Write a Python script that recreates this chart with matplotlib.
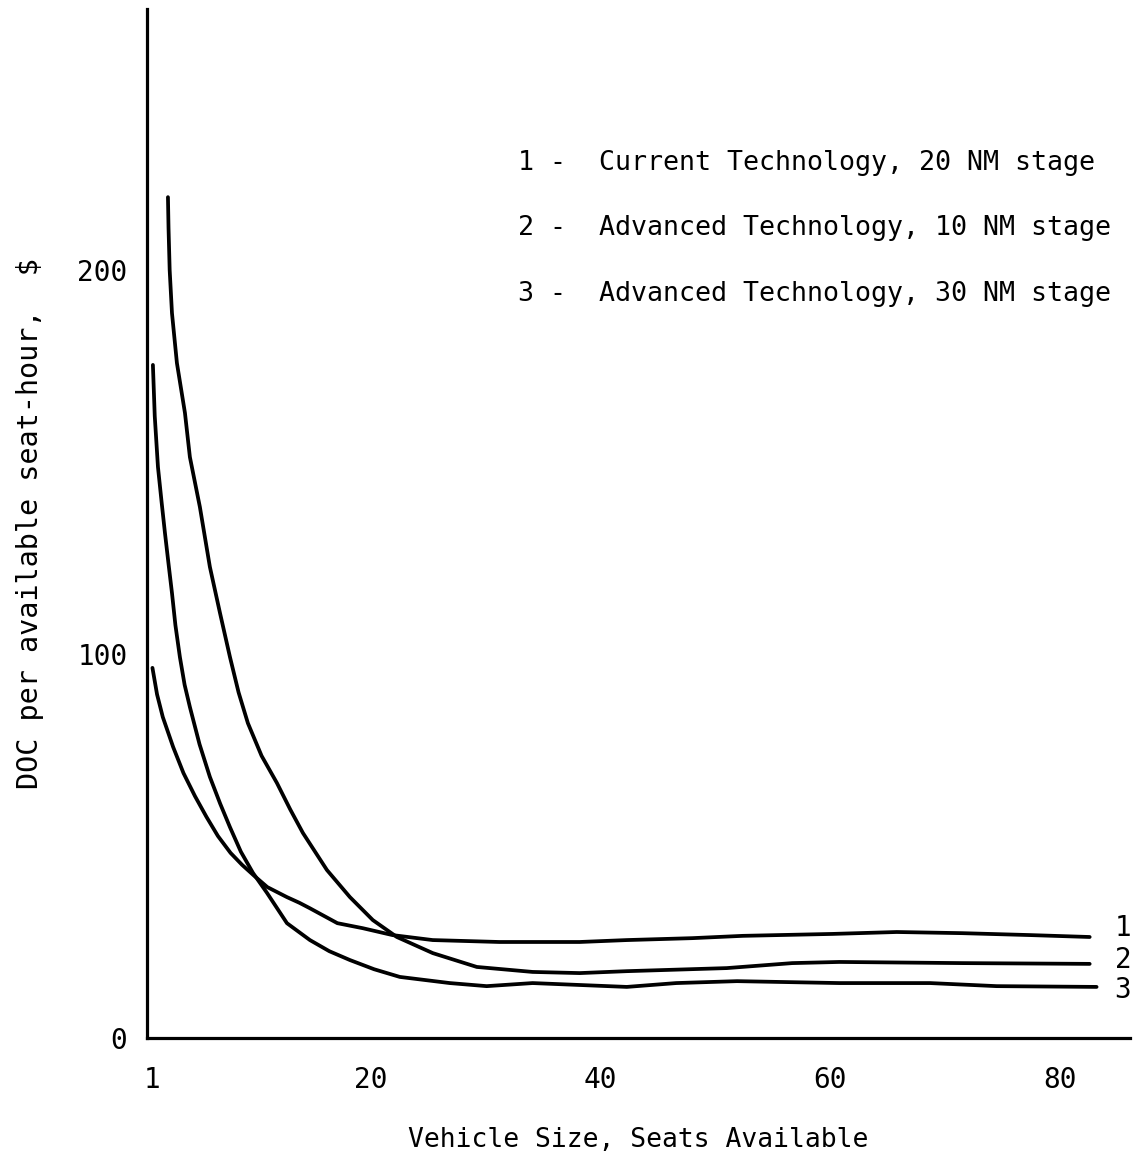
import matplotlib
matplotlib.use("Agg")
import matplotlib.pyplot as plt

# Vehicle size (seats) and direct operating cost per available seat-hour ($)
seats_1 = [1.0, 1.4, 1.9, 2.8, 3.7, 4.7, 5.7, 6.7, 7.8, 8.8, 9.8, 11.0, 12.7, 13.8,
           14.7, 17.1, 19.3, 21.9, 25.4, 31.2, 38.2, 42.3, 48.0, 52.4, 60.2, 65.8,
           71.5, 77.4, 82.6]
doc_1 = [96.4, 89.5, 83.6, 75.8, 69.0, 63.0, 57.6, 52.6, 48.2, 45.1, 42.4, 39.3,
         36.7, 35.2, 33.8, 29.9, 28.6, 26.8, 25.5, 25.0, 25.0, 25.5, 26.0, 26.6,
         27.1, 27.6, 27.3, 26.8, 26.3]

seats_2 = [2.35, 2.4, 2.5, 2.7, 3.13, 3.83, 4.26, 5.13, 6.0, 6.88, 7.75, 8.5, 9.31,
           10.5, 11.84, 13.0, 14.1, 16.19, 18.19, 20.19, 22.28, 25.41, 29.24, 34.1,
           38.2, 42.3, 51.0, 56.7, 60.8, 71.5, 82.6]
doc_2 = [219.0, 211.0, 200.0, 188.8, 175.8, 162.8, 151.3, 138.3, 122.7, 110.7, 99.2,
         90.0, 82.0, 73.5, 66.4, 59.5, 53.4, 43.75, 36.7, 30.7, 26.3, 22.1, 18.5,
         17.2, 16.9, 17.4, 18.2, 19.5, 19.8, 19.5, 19.3]

seats_3 = [1.04, 1.2, 1.48, 1.8, 2.09, 2.4, 2.7, 3.0, 3.39, 3.8, 4.26, 5.1, 6.0,
           6.9, 7.75, 8.7, 9.75, 10.97, 12.71, 14.71, 16.4, 18.19, 20.3, 22.54,
           26.89, 30.1, 34.1, 38.2, 42.3, 46.6, 51.9, 60.8, 68.7, 74.5, 83.2]
doc_3 = [175.3, 162.0, 148.7, 139.5, 131.5, 123.5, 115.9, 107.5, 99.2, 92.0, 86.2,
         76.5, 68.0, 61.0, 54.9, 48.5, 43.0, 37.8, 29.9, 25.5, 22.6, 20.3, 17.9,
         15.9, 14.3, 13.5, 14.3, 13.8, 13.3, 14.3, 14.8, 14.3, 14.3, 13.5, 13.3]

curve_ids = ["1", "2", "3"]
legend_lines = [
    "Current Technology, 20 NM stage",
    "Advanced Technology, 10 NM stage",
    "Advanced Technology, 30 NM stage",
]
x_ticks = [1, 20, 40, 60, 80]
y_ticks = [0, 100, 200]

font = "DejaVu Sans Mono"

fig = plt.figure(figsize=(11.39, 11.71), dpi=100)
ax = fig.add_axes([0.129, 0.1136, 0.863, 0.8787])

for xs, ys in [(seats_1, doc_1), (seats_2, doc_2), (seats_3, doc_3)]:
    ax.plot(xs, ys, color="black", lw=2.7, solid_joinstyle="round",
            solid_capstyle="round")

ax.set_xlim(0.52, 86.1)
ax.set_ylim(0, 268)

for side in ("top", "right"):
    ax.spines[side].set_visible(False)
for side in ("left", "bottom"):
    ax.spines[side].set_linewidth(2.3)

ax.set_xticks(x_ticks)
ax.set_xticklabels([str(v) for v in x_ticks], family=font, fontsize=20)
ax.set_yticks(y_ticks)
ax.set_yticklabels([str(v) for v in y_ticks], family=font, fontsize=20)
ax.tick_params(axis="both", length=0)
ax.tick_params(axis="x", pad=20)
ax.tick_params(axis="y", pad=14)

ax.set_xlabel("Vehicle Size, Seats Available", family=font, fontsize=19,
              labelpad=24)
ax.set_ylabel("DOC per available seat-hour,  $", family=font, fontsize=20.5,
              labelpad=24)

# Curve numbers at the right-hand ends
label_y = [28.6, 20.3, 12.5]
for cid, yv in zip(curve_ids, label_y):
    ax.text(85.5, yv, cid, family=font, fontsize=20, ha="center", va="center",
            clip_on=False)

# Key to the curves
key_y = [0.861, 0.805, 0.749]
for cid, line, yy in zip(curve_ids, legend_lines, key_y):
    fig.text(0.455, yy, f"{cid} -", family=font, fontsize=19.2, va="center")
    fig.text(0.526, yy, line, family=font, fontsize=19.2, va="center")

fig.savefig("out.png", dpi=100, facecolor="white")
